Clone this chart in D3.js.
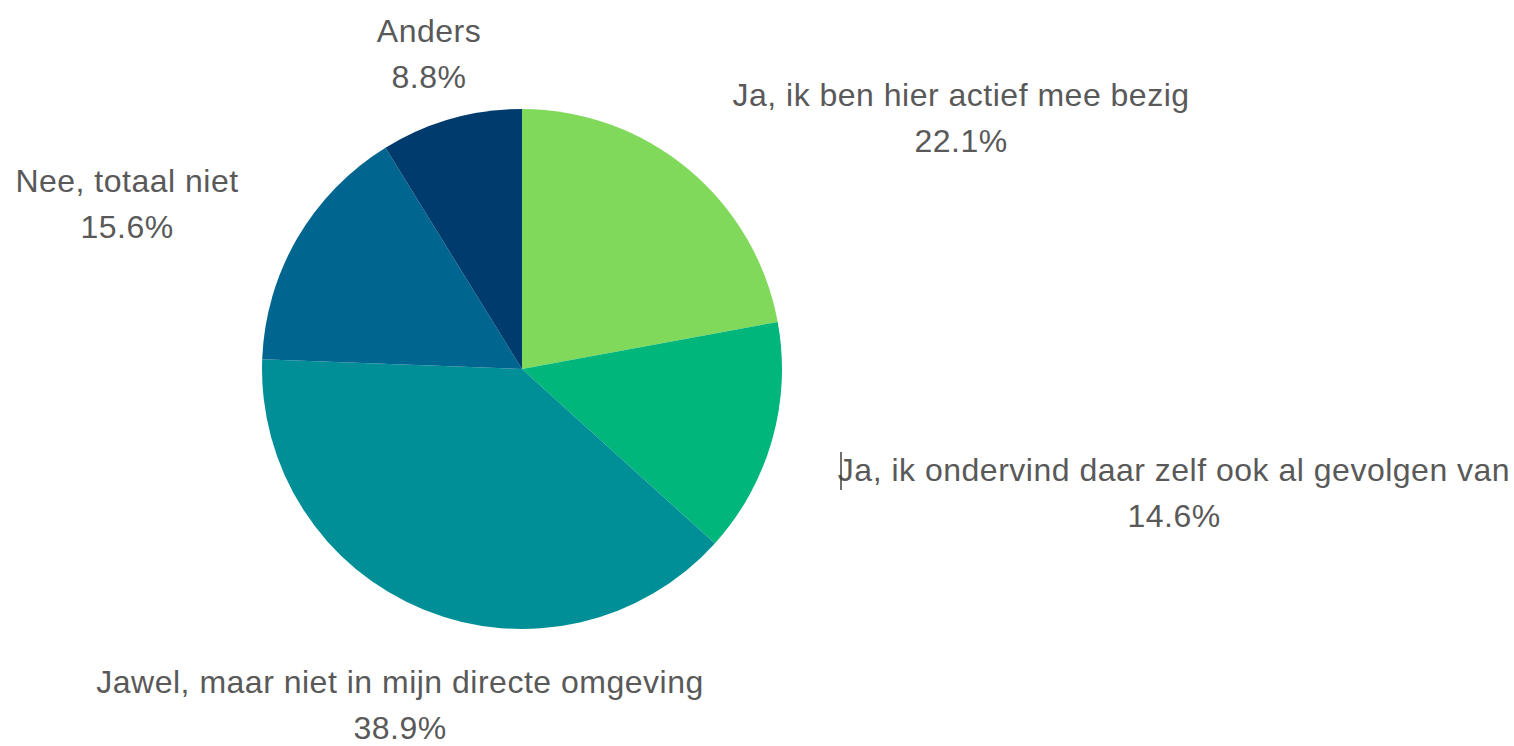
<!DOCTYPE html>
<html>
<head>
<meta charset="utf-8">
<script src="https://cdn.jsdelivr.net/npm/d3@7"></script>
<style>
  html, body { margin: 0; padding: 0; background: #ffffff; }
  svg text { font-family: "Liberation Sans", Arial, sans-serif; fill: #595959; letter-spacing: 0.5px; }
</style>
</head>
<body>
<svg id="chart" width="1514" height="746"></svg>
<script>
// Survey answers, clockwise from 12 o'clock
const categories = [
  "Ja, ik ben hier actief mee bezig",
  "Ja, ik ondervind daar zelf ook al gevolgen van",
  "Jawel, maar niet in mijn directe omgeving",
  "Nee, totaal niet",
  "Anders"
];
const shares = [22.1, 14.6, 38.9, 15.6, 8.8];
const valueLabels = ["22.1%", "14.6%", "38.9%", "15.6%", "8.8%"];
const colors = ["#80d95b", "#00b67a", "#008f97", "#006690", "#003b6e"];

// Layout
const width = 1514, height = 746;
const cx = 522, cy = 369, radius = 260;
const fontSize = 32, lineGap = 46;
// Label block centres (x, first baseline y) for each slice
const labelAnchors = [
  [961, 106],
  [1174, 481],
  [400, 693],
  [127, 192],
  [429, 42]
];

const svg = d3.select("#chart");
const g = svg.append("g").attr("transform", `translate(${cx},${cy})`);

const pie = d3.pie().sort(null).value(d => d.value);
const arc = d3.arc().innerRadius(0).outerRadius(radius);

const data = categories.map((c, i) => ({ name: c, value: shares[i], label: valueLabels[i], color: colors[i] }));
const arcs = pie(data);

g.selectAll("path.slice")
  .data(arcs)
  .join("path")
  .attr("class", "slice")
  .attr("d", arc)
  .attr("fill", d => d.data.color);

const labels = svg.selectAll("g.label")
  .data(arcs)
  .join("g")
  .attr("class", "label")
  .attr("transform", (d, i) => `translate(${labelAnchors[i][0]},${labelAnchors[i][1]})`);

labels.append("text")
  .attr("text-anchor", "middle")
  .attr("font-size", fontSize)
  .text(d => d.data.name);

labels.append("text")
  .attr("text-anchor", "middle")
  .attr("font-size", fontSize)
  .attr("y", lineGap)
  .text(d => d.data.label);

// Edit caret left in front of the second label
svg.append("line")
  .attr("x1", 841).attr("x2", 841)
  .attr("y1", 452).attr("y2", 490)
  .attr("stroke", "#404040")
  .attr("stroke-width", 1.5);
</script>
</body>
</html>
